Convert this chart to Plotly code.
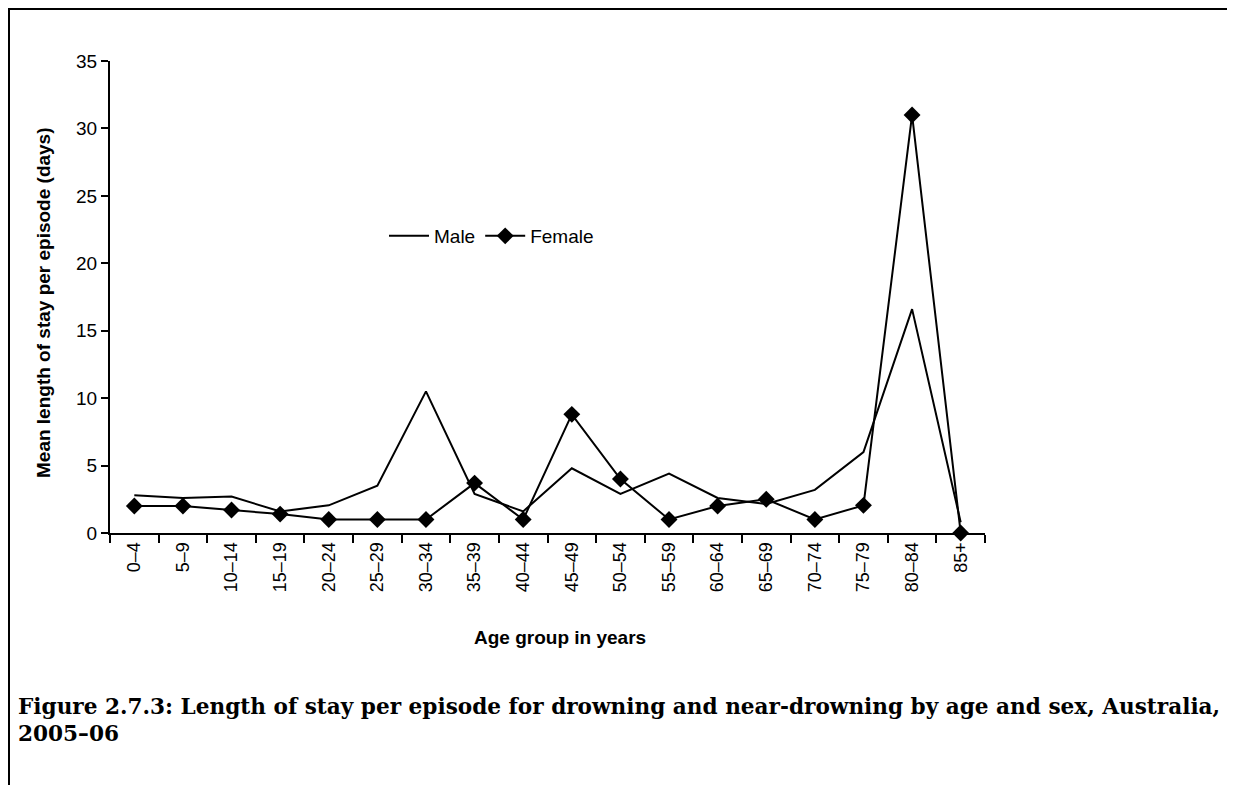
import plotly.graph_objects as go

age_groups = ["0–4", "5–9", "10–14", "15–19", "20–24", "25–29", "30–34", "35–39",
              "40–44", "45–49", "50–54", "55–59", "60–64", "65–69", "70–74", "75–79",
              "80–84", "85+"]
male = [2.8, 2.6, 2.7, 1.6, 2.05, 3.5, 10.5, 2.9, 1.6, 4.8, 2.9, 4.4, 2.6, 2.15, 3.2, 6.0, 16.6, 0.8]
female = [2.0, 2.0, 1.7, 1.4, 1.0, 1.0, 1.0, 3.7, 1.0, 8.8, 4.0, 1.0, 2.0, 2.5, 1.0, 2.05, 31.0, 0.0]
y_ticks = [0, 5, 10, 15, 20, 25, 30, 35]

# page is offset by 8px body margin; work in figure coordinates
OFF = 8
W, H = 1235 - OFF, 793 - 2 * OFF
L, R, T, B = 110 - OFF, 985 - OFF, 61 - OFF, 533 - OFF

fig = go.Figure()
fig.add_trace(go.Scatter(x=age_groups, y=male, name="Male", mode="lines",
                         line=dict(color="black", width=2), cliponaxis=False))
fig.add_trace(go.Scatter(x=age_groups, y=female, name="Female", mode="lines+markers",
                         line=dict(color="black", width=2),
                         marker=dict(symbol="diamond", size=13, color="black"),
                         cliponaxis=False))

def px_x(p):  # p in page coordinates
    return (p - OFF - L) / (R - L)

def px_y(p):
    return (B - (p - OFF)) / (B - T)

fig.update_layout(
    width=W, height=H,
    margin=dict(l=L, r=W - R, t=T, b=H - B),
    paper_bgcolor="white", plot_bgcolor="white",
    font=dict(family="Liberation Sans, Arial, sans-serif", color="black", size=18),
    showlegend=True,
    legend=dict(orientation="h", x=px_x(384), y=px_y(236), xanchor="left", yanchor="middle",
                font=dict(size=19), bgcolor="rgba(0,0,0,0)", itemwidth=40,
                tracegroupgap=0),
    xaxis=dict(type="category", range=[-0.5, 17.5], showgrid=False, zeroline=False,
               showline=True, linecolor="black", linewidth=2,
               ticks="outside", ticklen=8, tickwidth=2, tickcolor="black",
               tickson="boundaries", tickangle=-90, tickfont=dict(size=18),
               fixedrange=True),
    yaxis=dict(range=[0, 35], tickvals=y_ticks, showgrid=False, zeroline=False,
               showline=True, linecolor="black", linewidth=2,
               ticks="outside", ticklen=7, tickwidth=2, tickcolor="black",
               tickfont=dict(size=19), fixedrange=True),
    shapes=[
        dict(type="line", xref="paper", yref="paper",
             x0=px_x(9), x1=px_x(9), y0=px_y(8), y1=px_y(800),
             line=dict(color="black", width=2)),
        dict(type="line", xref="paper", yref="paper",
             x0=px_x(8), x1=px_x(1240), y0=px_y(9), y1=px_y(9),
             line=dict(color="black", width=2)),
    ],
    annotations=[
        dict(text="<b>Mean length of stay per episode (days)</b>", xref="paper", yref="paper",
             x=px_x(43), y=px_y(303), textangle=-90, showarrow=False,
             font=dict(size=19), xanchor="center", yanchor="middle"),
        dict(text="<b>Age group in years</b>", xref="paper", yref="paper",
             x=px_x(560), y=px_y(637), showarrow=False,
             font=dict(size=19), xanchor="center", yanchor="middle"),
        dict(text="<b>Figure 2.7.3: Length of stay per episode for drowning and near-drowning by age and sex, Australia,</b>",
             xref="paper", yref="paper", x=px_x(16), y=px_y(706), showarrow=False,
             font=dict(size=21.6, family="DejaVu Serif, serif"), xanchor="left", yanchor="middle"),
        dict(text="<b>2005–06</b>",
             xref="paper", yref="paper", x=px_x(16), y=px_y(733), showarrow=False,
             font=dict(size=21.6, family="DejaVu Serif, serif"), xanchor="left", yanchor="middle"),
    ],
)

fig.write_html("out.html")
